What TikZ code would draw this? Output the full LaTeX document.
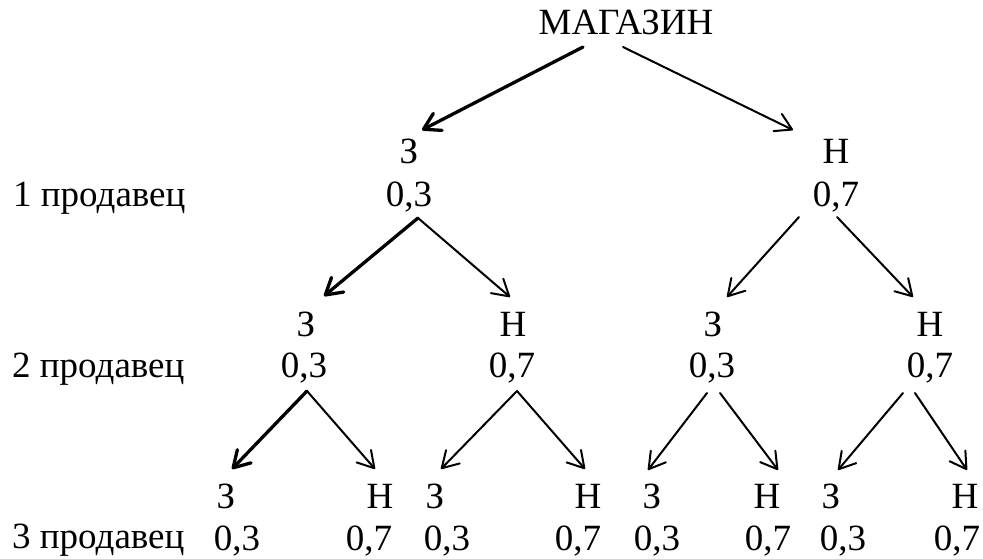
\documentclass[tikz,border=0pt]{standalone}
\usepackage{fontspec}
\setmainfont{Liberation Serif}
\usetikzlibrary{arrows.meta}
\begin{document}
\begin{tikzpicture}[x=1pt,y=-1pt,
  txt/.style={anchor=base,inner sep=0pt,font=\fontsize{37}{44}\selectfont},
  lab/.style={anchor=base west,inner sep=0pt,font=\fontsize{37}{44}\selectfont},
  arr/.style={line width=2pt,line cap=round,-{Straight Barb[length=16pt,width=19pt,round]}},
  barr/.style={line width=3.3pt,line cap=round,-{Straight Barb[length=16pt,width=19pt,round]}}]
\useasboundingbox (0,0) rectangle (983,559);
% root
\node[txt] (m) at (626,35) {МАГАЗИН};
% level 1
\node[txt] (l1a) at (409,164) {З};
\node[txt] (v1a) at (409,207) {0,3};
\node[txt] (l1b) at (836,164) {Н};
\node[txt] (v1b) at (836,207) {0,7};
\node[lab] (p1) at (13,207) {1 продавец};
% level 2
\node[txt] (l2a) at (306,336) {З};
\node[txt] (v2a) at (304,377) {0,3};
\node[txt] (l2b) at (513,336) {Н};
\node[txt] (v2b) at (512,377) {0,7};
\node[txt] (l2c) at (713,336) {З};
\node[txt] (v2c) at (712,377) {0,3};
\node[txt] (l2d) at (930,336) {Н};
\node[txt] (v2d) at (930,377) {0,7};
\node[lab] (p2) at (12,377) {2 продавец};
% level 3
\node[txt] (l3a) at (226,508) {З};
\node[txt] (v3a) at (237,550) {0,3};
\node[txt] (l3b) at (380,508) {Н};
\node[txt] (v3b) at (369,550) {0,7};
\node[txt] (l3c) at (435,508) {З};
\node[txt] (v3c) at (447,550) {0,3};
\node[txt] (l3d) at (588,508) {Н};
\node[txt] (v3d) at (578,550) {0,7};
\node[txt] (l3e) at (652,508) {З};
\node[txt] (v3e) at (657,550) {0,3};
\node[txt] (l3f) at (767,508) {Н};
\node[txt] (v3f) at (768,550) {0,7};
\node[txt] (l3g) at (831,508) {З};
\node[txt] (v3g) at (843,550) {0,3};
\node[txt] (l3h) at (965,508) {Н};
\node[txt] (v3h) at (957,550) {0,7};
\node[lab] (p3) at (12,548) {3 продавец};
% connector ends
\coordinate (m1) at (583,47);  \coordinate (m2) at (623,47);
\coordinate (t1a) at (422,130); \coordinate (t1b) at (793,130);
\coordinate (s1a) at (418,218); \coordinate (s1b) at (799,217); \coordinate (s1c) at (837,217);
\coordinate (t2a) at (324,296); \coordinate (t2b) at (510,297);
\coordinate (t2c) at (727,297); \coordinate (t2d) at (913,297);
\coordinate (s2a) at (307,391); \coordinate (s2b) at (517,391);
\coordinate (s2c) at (707,393); \coordinate (s2d) at (720,393);
\coordinate (s2e) at (903,393); \coordinate (s2f) at (915,393);
\coordinate (t3a) at (232,469); \coordinate (t3b) at (375,469);
\coordinate (t3c) at (441,469); \coordinate (t3d) at (585,469);
\coordinate (t3e) at (648,470); \coordinate (t3f) at (778,470);
\coordinate (t3g) at (838,470); \coordinate (t3h) at (967,470);
% arrows
\draw[barr] (m1) -- (t1a);
\draw[arr] (m2) -- (t1b);
\draw[barr] (s1a) -- (t2a);
\draw[arr] (s1a) -- (t2b);
\draw[arr] (s1b) -- (t2c);
\draw[arr] (s1c) -- (t2d);
\draw[barr] (s2a) -- (t3a);
\draw[arr] (s2a) -- (t3b);
\draw[arr] (s2b) -- (t3c);
\draw[arr] (s2b) -- (t3d);
\draw[arr] (s2c) -- (t3e);
\draw[arr] (s2d) -- (t3f);
\draw[arr] (s2e) -- (t3g);
\draw[arr] (s2f) -- (t3h);
\end{tikzpicture}
\end{document}
